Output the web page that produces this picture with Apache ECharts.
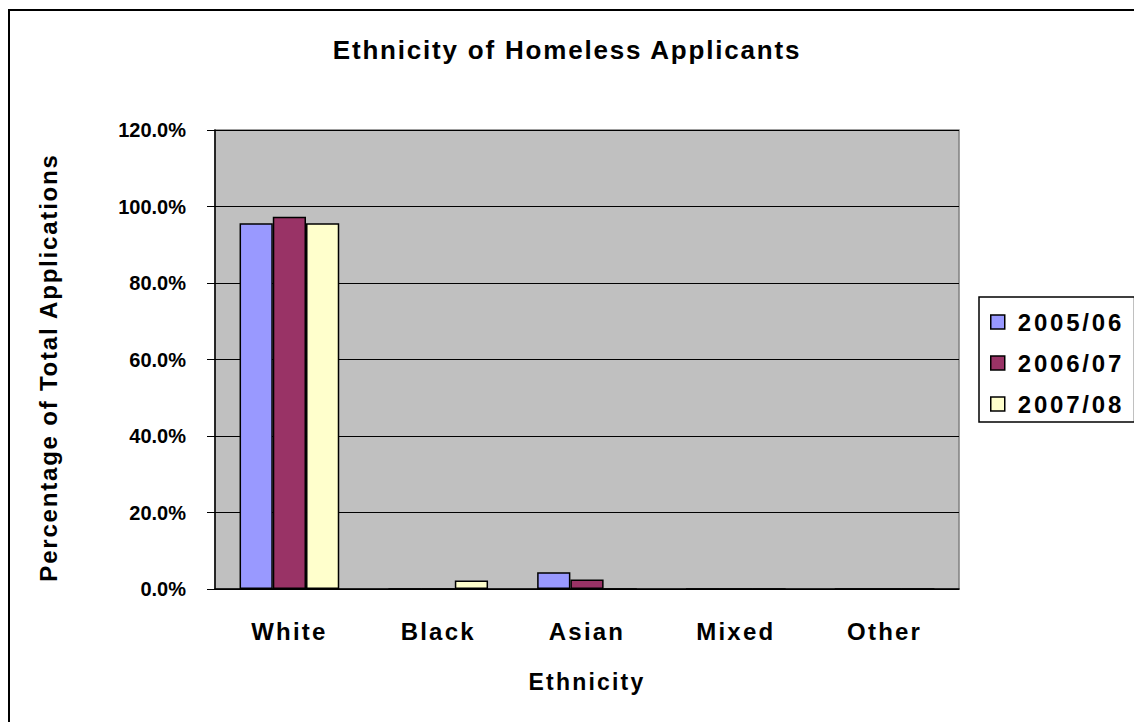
<!DOCTYPE html>
<html>
<head>
<meta charset="utf-8">
<script src="https://cdn.jsdelivr.net/npm/echarts@6/dist/echarts.min.js"></script>
<style>
    html, body { margin: 0; padding: 0; background: #fff; }
    #chart { width: 1134px; height: 722px; }
</style>
</head>
<body>
<div id="chart"></div>
<script>
// ethnicity categories and yearly shares (% of total applications)
var categories = ["White", "Black", "Asian", "Mixed", "Other"];
var years = ["2005/06", "2006/07", "2007/08"];
var y2005 = [95.6, 0, 4.4, 0, 0];
var y2006 = [97.3, 0, 2.5, 0, 0];
var y2007 = [95.6, 2.2, 0, 0, 0];
var yTicks = [0, 20, 40, 60, 80, 100, 120];

var colors = ["#9999FF", "#993366", "#FFFFCC"];
var font = "Liberation Sans, Arial, sans-serif";

// svg renderer so the spaced-out excel lettering can be done with css
var chart = echarts.init(document.getElementById("chart"), null, { renderer: "svg" });

function bar(name, data, idx) {
    return {
        name: name,
        type: "bar",
        data: data,
        barGap: "0%",
        barCategoryGap: "33%",
        itemStyle: {
            color: colors[idx],
            borderColor: "#000",
            borderWidth: 1.5
        }
    };
}

function txt(size) {
    return {
        fontFamily: font,
        fontSize: size,
        fontWeight: "bold",
        color: "#000"
    };
}

var options = {
    animation: false,
    title: {
        text: "Ethnicity of Homeless Applicants",
        left: "center",
        top: 32,
        textStyle: txt(26)
    },
    legend: {
        data: years,
        orient: "vertical",
        left: 979,
        top: 297,
        padding: [13, 30, 6, 11],
        itemGap: 17,
        itemWidth: 14,
        itemHeight: 14,
        icon: "rect",
        borderColor: "#000",
        borderWidth: 1.5,
        itemStyle: { borderColor: "#000", borderWidth: 1.5 },
        textStyle: Object.assign(txt(24), { lineHeight: 22, padding: [0, 0, 0, 8] })
    },
    grid: {
        left: 215,
        right: 175,
        top: 130,
        bottom: 133,
        show: true,
        backgroundColor: "#C0C0C0",
        borderColor: "#808080",
        borderWidth: 1.5
    },
    xAxis: {
        type: "category",
        data: categories,
        name: "Ethnicity",
        nameLocation: "middle",
        nameGap: 81,
        nameTextStyle: txt(23),
        axisLine: { lineStyle: { color: "#000", width: 1.5 } },
        axisTick: { length: 8, lineStyle: { color: "#000" } },
        axisLabel: Object.assign(txt(24), { margin: 30 })
    },
    yAxis: {
        type: "value",
        min: yTicks[0],
        max: yTicks[yTicks.length - 1],
        interval: 20,
        name: "Percentage of Total Applications",
        nameLocation: "middle",
        nameGap: 155,
        nameTextStyle: Object.assign(txt(24), { padding: [0, 16, 0, 0] }),
        axisLine: { show: true, lineStyle: { color: "#000", width: 1.5 } },
        axisTick: { show: true, length: 8, lineStyle: { color: "#000" } },
        axisLabel: Object.assign(txt(20), {
            margin: 29,
            formatter: function (v) { return v.toFixed(1) + "%"; }
        }),
        splitLine: { lineStyle: { color: "#000", width: 1 } }
    },
    series: [
        bar(years[0], y2005, 0),
        bar(years[1], y2006, 1),
        bar(years[2], y2007, 2)
    ],
    graphic: [
        {
            type: "rect",
            shape: { x: 9, y: 10, width: 1200, height: 800 },
            style: { fill: null, stroke: "#000", lineWidth: 2 },
            silent: true,
            z: -1
        }
    ]
};

chart.setOption(options);

// tick labels stay tight, the rest is spread out a bit
var texts = document.querySelectorAll("#chart text");
for (var i = 0; i < texts.length; i++) {
    var t = texts[i].textContent;
    if (/%$/.test(t)) continue;
    var sp = "2.2px";
    if (t.length > 20) sp = "1.8px";
    if (/\//.test(t)) sp = "2.8px";
    texts[i].style.letterSpacing = sp;
}
</script>
</body>
</html>
